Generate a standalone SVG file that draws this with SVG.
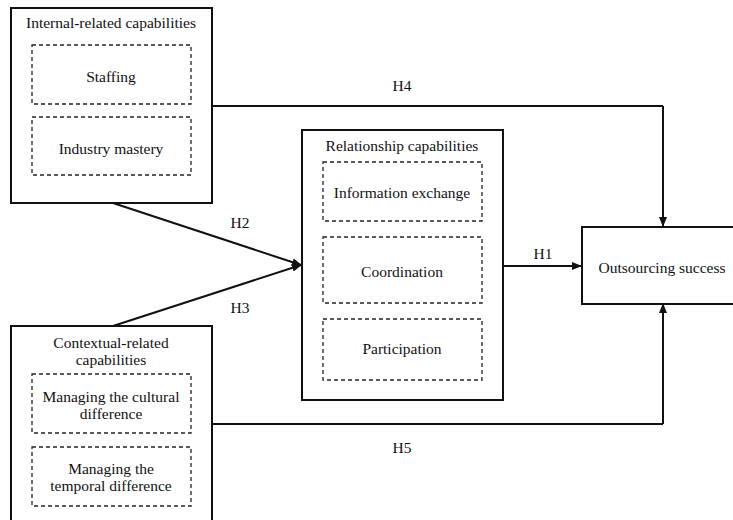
<svg xmlns="http://www.w3.org/2000/svg" width="733" height="520" viewBox="0 0 733 520">
<style>
.outer{fill:#fff;stroke:#111;stroke-width:2}
.dash{fill:none;stroke:#222;stroke-width:1.3;stroke-dasharray:4 3}
.t{font-family:'Liberation Serif','Times New Roman',Times,serif;font-size:15.5px;fill:#111;text-anchor:middle}
.c{fill:none;stroke:#111;stroke-width:2}
</style>
<defs>
<marker id="ah" markerWidth="10" markerHeight="10" refX="9" refY="5" orient="auto" markerUnits="userSpaceOnUse">
<path d="M0,1 L10,5 L0,9 Z" fill="#111"/>
</marker>
</defs>
<rect width="733" height="520" fill="#fff"/>
<g id="connectors">
<line class="c" x1="213" y1="106" x2="663" y2="106"/>
<line class="c" x1="663" y1="106" x2="663" y2="226" marker-end="url(#ah)"/>
<line class="c" x1="213" y1="424" x2="663" y2="424"/>
<line class="c" x1="663" y1="424" x2="663" y2="304" marker-end="url(#ah)"/>
<line class="c" x1="113" y1="203" x2="301" y2="265" marker-end="url(#ah)"/>
<line class="c" x1="113" y1="326" x2="301" y2="265" marker-end="url(#ah)"/>
<line class="c" x1="503" y1="266" x2="581" y2="266" marker-end="url(#ah)"/>
<text class="t" x="402" y="91">H4</text>
<text class="t" x="240" y="228">H2</text>
<text class="t" x="240" y="313">H3</text>
<text class="t" x="543" y="259">H1</text>
<text class="t" x="402" y="453">H5</text>
</g>
<g id="internal">
<rect class="outer" x="11" y="8" width="201" height="195"/>
<text class="t" x="111" y="28">Internal-related capabilities</text>
<rect class="dash" x="32" y="45" width="159" height="59"/>
<text class="t" x="111" y="82">Staffing</text>
<rect class="dash" x="32" y="117" width="159" height="58"/>
<text class="t" x="111" y="154">Industry mastery</text>
</g>
<g id="contextual">
<rect class="outer" x="11" y="326" width="201" height="200"/>
<text class="t" x="111" y="348">Contextual-related</text>
<text class="t" x="111" y="365">capabilities</text>
<rect class="dash" x="32" y="374" width="159" height="59"/>
<text class="t" x="111" y="402">Managing the cultural</text>
<text class="t" x="111" y="419">difference</text>
<rect class="dash" x="32" y="447" width="159" height="59"/>
<text class="t" x="111" y="474">Managing the</text>
<text class="t" x="111" y="491">temporal difference</text>
</g>
<g id="relationship">
<rect class="outer" x="302" y="130" width="201" height="270"/>
<text class="t" x="402" y="151">Relationship capabilities</text>
<rect class="dash" x="323" y="162" width="159" height="59"/>
<text class="t" x="402" y="198">Information exchange</text>
<rect class="dash" x="323" y="237" width="159" height="66"/>
<text class="t" x="402" y="277">Coordination</text>
<rect class="dash" x="323" y="319" width="159" height="61"/>
<text class="t" x="402" y="354">Participation</text>
</g>
<g id="outsourcing">
<rect class="outer" x="582" y="227" width="170" height="77" stroke-width="1.5"/>
<text class="t" x="662" y="273">Outsourcing success</text>
</g>
</svg>
